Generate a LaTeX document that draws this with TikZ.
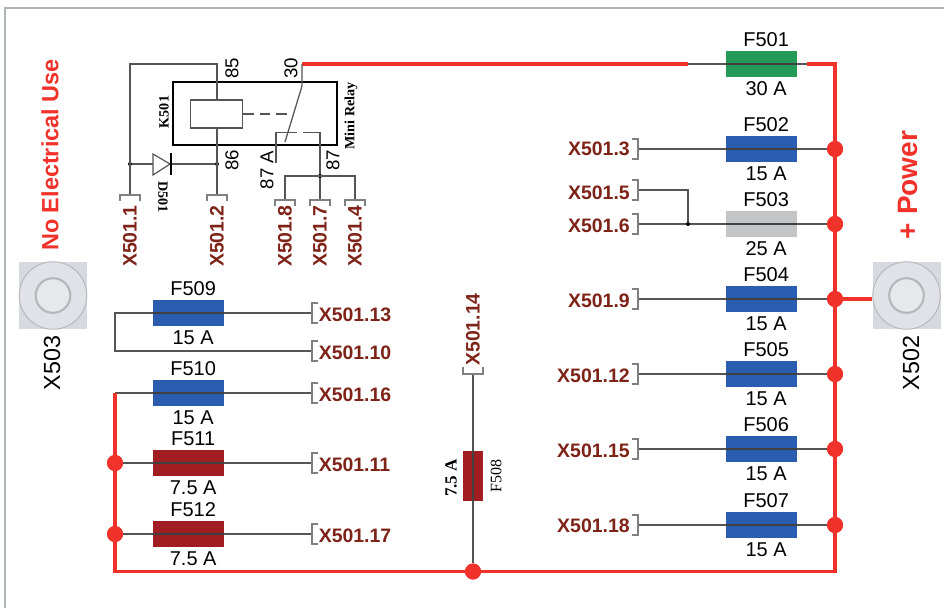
\documentclass[tikz,border=0pt]{standalone}
\usepackage{fontspec}
\setmainfont{Liberation Sans}
\newfontfamily\serifb{Liberation Serif}
\usetikzlibrary{positioning}
\definecolor{wirered}{HTML}{F0322B}
\definecolor{labred}{HTML}{7E2318}
\definecolor{fblue}{HTML}{2A5CAF}
\definecolor{fgreen}{HTML}{259A58}
\definecolor{fgrey}{HTML}{C3C5C7}
\definecolor{fred}{HTML}{A01D22}
\definecolor{wiregrey}{HTML}{555555}
\definecolor{framegrey}{HTML}{AEB6B4}
\definecolor{padgrey}{HTML}{D6D9DF}
\definecolor{padline}{HTML}{B4B7BB}
\tikzset{
  wire/.style={draw=wiregrey,line width=.95pt},
  fusewire/.style={draw=black!75,line width=1pt},
  power/.style={draw=wirered,line width=2.5pt},
  fusebox/.style={draw=none,minimum width=53.25pt,minimum height=19.5pt,inner sep=0pt},
  fusetext/.style={font=\fontsize{15pt}{17pt}\selectfont,text=black,inner sep=0pt},
  pinlab/.style={font=\bfseries\fontsize{14.6pt}{16pt}\selectfont,text=labred,inner sep=0pt},
  pintxt/.style={font=\fontsize{14pt}{16pt}\selectfont,text=black,inner sep=0pt},
  sertxt/.style={font=\serifb\bfseries\fontsize{10.6pt}{12pt}\selectfont,text=black,inner sep=0pt},
  junction/.style={circle,fill=wirered,minimum size=12pt,inner sep=0pt},
  smalldot/.style={circle,fill=black,minimum size=3pt,inner sep=0pt},
  brk/.style={draw=gray,line width=.9pt},
}
\newcommand{\padsym}[2]{%
  \node[draw=none,fill=padgrey,minimum width=51pt,minimum height=50.5pt,inner sep=0pt] (#2) at #1 {};
  \draw[padline,line width=.7pt,fill=padgrey!75!white] (#2) circle (25.3pt);
  \draw[padline,line width=1.6pt,fill=padgrey!60!white] (#2) circle (13pt);
}
\newcommand{\hfuse}[6]{% name, x, y, colour, label, rating
  \node[fusebox,fill=#4] (#1) at (#2,#3) {};
  \node[fusetext,above=2.6pt of #1,xshift=3.5pt] (#1t) {#5};
  \node[fusetext,below=3.2pt of #1,xshift=3.5pt] (#1b) {#6};
}
\begin{document}
\begin{tikzpicture}[x=0.75pt,y=-0.75pt]
\useasboundingbox (0,0) rectangle (944,608);
\fill[white] (0,0) rectangle (944,608);
\draw[framegrey,line width=1.6pt] (5,608) -- (5,8) -- (944,8);

% pads
\padsym{(53,295.5)}{xiii}
\padsym{(906.5,295.5)}{xii}
\node[font=\fontsize{17.5pt}{19pt}\selectfont,rotate=90,inner sep=0pt] (lx503) at (52,363) {X503};
\node[font=\fontsize{17.5pt}{19pt}\selectfont,rotate=90,inner sep=0pt] (lx502) at (911,363) {X502};
\node[font=\bfseries\fontsize{17.6pt}{19pt}\selectfont,text=wirered,rotate=90,inner sep=0pt] (nouse) at (50,155) {No Electrical Use};
\node[font=\bfseries\fontsize{21pt}{23pt}\selectfont,text=wirered,rotate=90,inner sep=0pt] (plus) at (908,185) {+ Power};

% right fuses
\hfuse{fa}{761.5}{64}{fgreen}{F501}{30 A}
\hfuse{fb}{761.5}{149}{fblue}{F502}{15 A}
\hfuse{fc}{761.5}{224}{fgrey}{F503}{25 A}
\hfuse{fd}{761.5}{299}{fblue}{F504}{15 A}
\hfuse{fe}{761.5}{374}{fblue}{F505}{15 A}
\hfuse{ff}{761.5}{449}{fblue}{F506}{15 A}
\hfuse{fg}{761.5}{525}{fblue}{F507}{15 A}
% left fuses
\hfuse{fi}{188.5}{313}{fblue}{F509}{15 A}
\hfuse{fj}{188.5}{393}{fblue}{F510}{15 A}
\hfuse{fk}{188.5}{463}{fred}{F511}{7.5 A}
\hfuse{fl}{188.5}{534}{fred}{F512}{7.5 A}
% F508
\node[fill=fred,minimum width=15pt,minimum height=37.5pt,inner sep=0pt] (fh) at (473,476) {};

% coordinates
\coordinate (tl) at (302,64);
\coordinate (tr) at (835,64);
\coordinate (bl) at (115,571.5);
\coordinate (br) at (835,571.5);
\coordinate (lt) at (115,393);
\node[junction] (jb) at (835,149) {};
\node[junction] (jc) at (835,224) {};
\node[junction] (jd) at (835,299) {};
\node[junction] (je) at (835,374) {};
\node[junction] (jf) at (835,449) {};
\node[junction] (jg) at (835,525) {};
\node[junction] (jk) at (115,463) {};
\node[junction] (jl) at (115,534) {};
\node[junction] (jh) at (473,571.5) {};

% connector brackets (right block)
\foreach \n/\y in {b/149,c/224,d/299,e/374,f/449,g/525}{
  \coordinate (p\n) at (638,\y);
  \draw[wire] (p\n) -- (f\n.west);
  \draw[wire] (f\n.east) -- (j\n);
  \draw[brk] ([xshift=-4.5pt]p\n) ++(0,-7.5pt) -- ++(4.5pt,0) -- ++(0,15pt) -- ++(-4.5pt,0);
}
\coordinate (p5) at (638,190);
\node[smalldot] (j56) at (688,224) {};
\draw[wire] (p5) -- (j56|-p5) -- (j56);
\draw[brk] ([xshift=-4.5pt]p5) ++(0,-7.5pt) -- ++(4.5pt,0) -- ++(0,15pt) -- ++(-4.5pt,0);

\foreach \t/\y in {X501.3/149,X501.5/193,X501.6/226,X501.9/301,X501.12/376,X501.15/451,X501.18/526}{
  \node[pinlab,anchor=east] (l\t) at (630,\y) {\t};
}

% connector brackets (left block)
\foreach \n/\y/\t/\ly in {i/313/X501.13/315,j/393/X501.16/395,k/463/X501.11/465,l/534/X501.17/536}{
  \coordinate (q\n) at (312,\y);
  \draw[wire] (f\n.east) -- (q\n);
  \draw[brk] ([xshift=4.5pt]q\n) ++(0,-7.5pt) -- ++(-4.5pt,0) -- ++(0,15pt) -- ++(4.5pt,0);
  \node[pinlab,anchor=west] (m\n) at (318.5,\ly) {\t};
}
\coordinate (q10) at (312,351);
\draw[wire] (fi.west) -- (115,313) -- (115,351) -- (q10);
\draw[brk] ([xshift=4.5pt]q10) ++(0,-7.5pt) -- ++(-4.5pt,0) -- ++(0,15pt) -- ++(4.5pt,0);
\node[pinlab,anchor=west] (m10) at (318.5,353) {X501.10};
\draw[wire] (lt) -- (fj.west);
\draw[wire] (jk) -- (fk.west);
\draw[wire] (jl) -- (fl.west);

% F508 branch
\coordinate (q14) at (473,374);
\draw[draw=wiregrey,line width=1.1pt] (q14) -- (jh);
\draw[brk] (463,367) -- (463,374) -- (483,374) -- (483,367);
\node[pinlab,rotate=90,anchor=west] (m14) at (473,366) {X501.14};
\node[font=\serifb\bfseries\fontsize{12.8pt}{14pt}\selectfont,rotate=90,inner sep=0pt] (f508a) at (451,478) {7.5 A};
\node[font=\serifb\fontsize{12pt}{14pt}\selectfont,rotate=90,inner sep=0pt] (f508n) at (496,476) {F508};

% power rails
\draw[power] (tl) -- (688,64);
\draw[wire] (688,64) -- (fa.west) (fa.east) -- (807,64);
\draw[power] (807,64) -- (tr) -- (br) -- (bl) -- (lt);
\draw[power] (jd) -- (jd-|xii.west);

% wires seen through the fuses
\foreach \n in {a,b,c,d,e,f,g,i,j,k,l}{\draw[fusewire] (f\n.west) -- (f\n.east);}
\draw[fusewire] (fh.north) -- (fh.south);

% redraw junctions above rails
\foreach \j in {jb,jc,jd,je,jf,jg,jk,jl,jh}{\fill[wirered] (\j) circle (6pt);}

% relay
\node[draw=black,line width=1.7pt,minimum width=123pt,minimum height=47pt,inner sep=0pt] (relay) at (255,113.5) {};
\node[draw=wiregrey,line width=.95pt,minimum width=39pt,minimum height=21pt,inner sep=0pt,fill=white] (coil) at (216.5,114) {};
\coordinate (c85) at (217,64);
\coordinate (x1) at (130,64);
\coordinate (x1b) at (130,195);
\coordinate (x2b) at (217,195);
\node[smalldot] (d1) at (130,164) {};
\node[smalldot] (d2) at (217,164) {};
\draw[wire] (x1b) -- (x1) -- (c85) -- (c85|-coil.north);
\draw[wire] (c85|-coil.south) -- (x2b);
\draw[wire] (d1) -- (d2);
% diode
\coordinate (dt) at (170,164);
\draw[wiregrey,line width=.9pt,fill=white] (153,154) -- (dt) -- (153,175) -- cycle;
\draw[black,line width=1.2pt] (171,153) -- (171,175);
% switch
\coordinate (s0) at (302,64);
\coordinate (s1) at (302,86);
\coordinate (s2) at (285,142);
\draw[wire] (s0) -- (s1) -- (s2);
\draw[wire,dash pattern=on 8pt off 4.5pt] (coil.east) -- (291,114);
% 87 A contact
\coordinate (ca) at (276,163);
\draw[wire] (ca) -- (276,132.5) -- (297,132.5);
\draw[wire] (303,132.5) -- (320,132.5) -- (320,200);
\node[smalldot] (d3) at (320,176) {};
\draw[wire] (285,200) -- (285,176) -- (355,176) -- (355,200);
% vertical brackets
\foreach \x/\y in {130/195,217/195,285/200,320/200,355/200}{
  \draw[brk] (\x-10,\y+6) -- (\x-10,\y) -- (\x+10,\y) -- (\x+10,\y+6);
}
\node[pinlab,rotate=90,anchor=east] (v1) at (130,205) {X501.1};
\node[pinlab,rotate=90,anchor=east] (v2) at (217,205) {X501.2};
\node[pinlab,rotate=90,anchor=east] (v8) at (285,205) {X501.8};
\node[pinlab,rotate=90,anchor=east] (v7) at (320,205) {X501.7};
\node[pinlab,rotate=90,anchor=east] (v4) at (355,205) {X501.4};
\node[pintxt,rotate=90] (n85) at (232,68) {85};
\node[pintxt,rotate=90] (n30) at (291,68) {30};
\node[pintxt,rotate=90] (n86) at (232,160) {86};
\node[pintxt,rotate=90] (n87a) at (267,170) {87 A};
\node[pintxt,rotate=90] (n87) at (333,160) {87};
\node[sertxt,rotate=90] (k501) at (164,112) {K501};
\node[sertxt,rotate=90] (mini) at (351,116) {Mini Relay};
\node[sertxt,rotate=-90] (d501) at (163,197) {D501};
\end{tikzpicture}
\end{document}
